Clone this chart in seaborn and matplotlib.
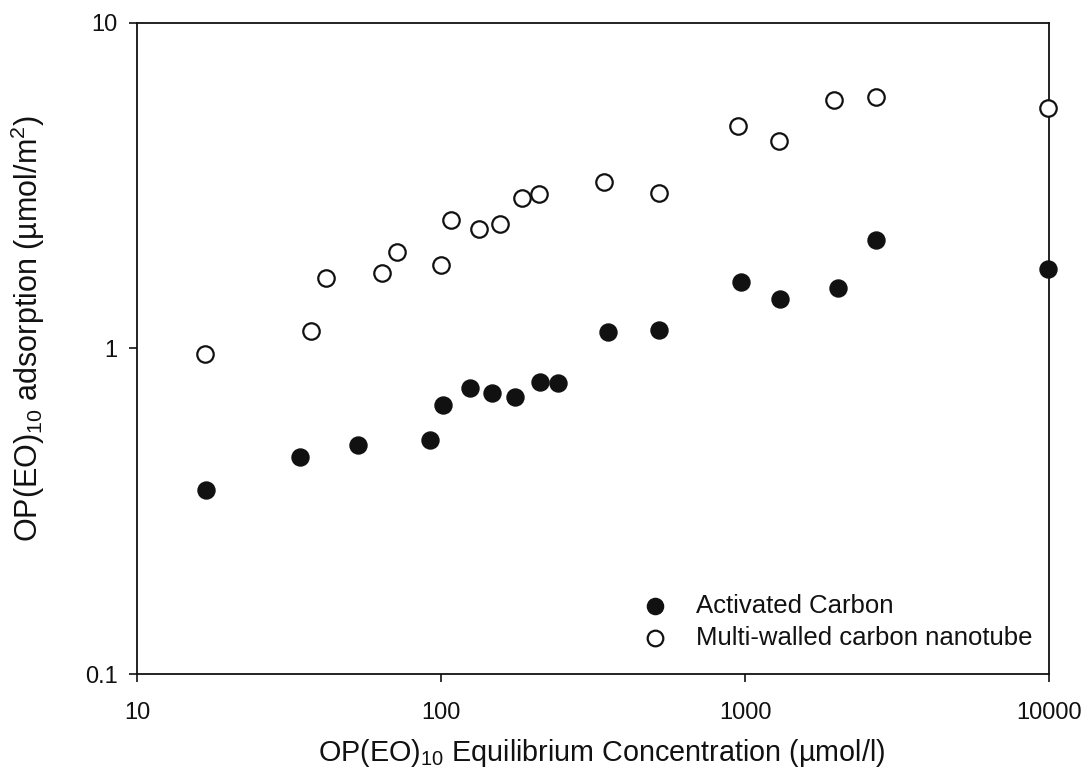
import matplotlib
matplotlib.use("Agg")
import matplotlib.pyplot as plt
import seaborn as sns
import pandas as pd

# Activated carbon (filled circles)
ac_conc = [16.9, 34.3, 53.3, 92.2, 101.8, 124.9, 147.2, 174.8, 211.8, 242.7,
           355, 521, 970, 1306, 2028, 2692, 9930]
ac_ads = [0.367, 0.463, 0.504, 0.524, 0.669, 0.755, 0.732, 0.708, 0.789, 0.783,
          1.126, 1.137, 1.597, 1.42, 1.537, 2.15, 1.75]

# Multi-walled carbon nanotube (open circles)
mw_conc = [16.7, 37.3, 41.9, 64.0, 71.6, 99.8, 108, 133.6, 156, 184.7, 210.6,
           343.5, 521, 951, 1291, 1967, 2692, 9930]
mw_ads = [0.962, 1.13, 1.647, 1.706, 1.984, 1.805, 2.49, 2.33, 2.42, 2.89, 2.99,
          3.25, 3.00, 4.84, 4.34, 5.80, 5.94, 5.48]

series_labels = ["Activated Carbon", "Multi-walled carbon nanotube"]
x_ticks = [10, 100, 1000, 10000]
x_ticklabels = ["10", "100", "1000", "10000"]
y_ticks = [0.1, 1, 10]
y_ticklabels = ["0.1", "1", "10"]

sns.set_theme(style="white")
plt.rcParams["font.family"] = ["Liberation Sans", "DejaVu Sans"]
plt.rcParams["mathtext.default"] = "regular"

df_ac = pd.DataFrame({"x": ac_conc, "y": ac_ads})
df_mw = pd.DataFrame({"x": mw_conc, "y": mw_ads})

fig = plt.figure(figsize=(10.88, 7.81), dpi=100)
ax = fig.add_axes([0.1259, 0.137, 0.9642 - 0.1259, 0.9706 - 0.137])

sns.scatterplot(data=df_ac, x="x", y="y", ax=ax, s=150, color="#111111",
                edgecolor="#111111", linewidth=1, label=series_labels[0],
                clip_on=False, zorder=3)
sns.scatterplot(data=df_mw, x="x", y="y", ax=ax, s=140, facecolor="white",
                edgecolor="#111111", linewidth=1.6, label=series_labels[1],
                clip_on=False, zorder=3)

ax.set_xscale("log")
ax.set_yscale("log")
ax.set_xlim(10, 10000)
ax.set_ylim(0.1, 10)
ax.set_xticks(x_ticks)
ax.set_xticklabels(x_ticklabels)
ax.set_yticks(y_ticks)
ax.set_yticklabels(y_ticklabels)
ax.minorticks_off()
ax.tick_params(axis="both", which="major", direction="out", length=6, width=1.2,
               color="#111111", labelsize=17, labelcolor="#111111", pad=14,
               bottom=True, left=True, top=False, right=False)
ax.tick_params(axis="y", pad=8)

for sp in ax.spines.values():
    sp.set_visible(True)
    sp.set_color("#111111")
    sp.set_linewidth(1.3)

ax.set_xlabel("OP(EO)$_{10}$ Equilibrium Concentration (µmol/l)", fontsize=20.7,
              color="#111111")
ax.set_ylabel("OP(EO)$_{10}$ adsorption (µmol/m$^2$)", fontsize=22,
              color="#111111")
ax.xaxis.set_label_coords(0.510, -0.096)
ax.yaxis.set_label_coords(-0.0985, 0.531)

leg = ax.legend(loc="lower right", bbox_to_anchor=(1.007, 0.002), frameon=False,
                fontsize=18.5, handletextpad=0.57, labelspacing=0.3,
                markerscale=0.95)
for t in leg.get_texts():
    t.set_color("#111111")

fig.savefig("out.png", dpi=100, facecolor="white")
